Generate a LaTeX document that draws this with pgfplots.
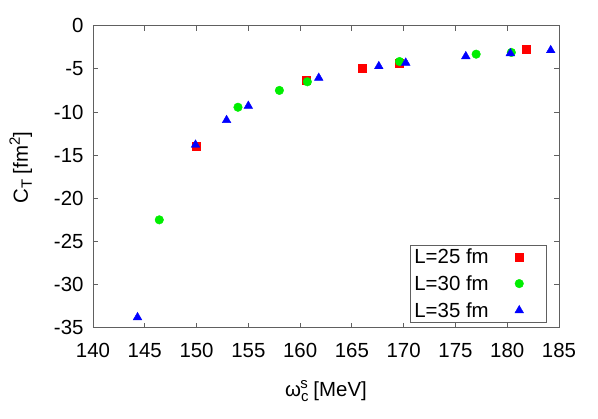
\documentclass[border=0pt]{standalone}
\usepackage{fontspec}
\setmainfont{Liberation Sans}
\usepackage{pgfplots}
\pgfplotsset{compat=1.18}
\definecolor{axgray}{HTML}{606060}
\definecolor{mred}{HTML}{FF0000}
\definecolor{mgreen}{HTML}{00EE00}
\definecolor{mblue}{HTML}{0000FF}
\newcommand{\sz}{\fontsize{20.5}{22}\selectfont}
\newcommand{\ssz}{\fontsize{15}{15}\selectfont}
\begin{document}
\begin{tikzpicture}
\path[use as bounding box] (-93bp,-91.3bp) rectangle (505bp,327.7bp);
\begin{axis}[
  scale only axis, width=466bp, height=302bp,
  xmin=140, xmax=185, ymin=-35, ymax=0,
  xtick={140,145,...,185}, ytick={-35,-30,...,0},
  tick align=inside, major tick length=5bp,
  axis line style={axgray, line width=0.8pt}, tick style={axgray, line width=0.8pt},
  /pgf/number format/assume math mode=true,
  tick label style={font=\sz},
  label style={font=\sz},
  xticklabel style={yshift=-12bp},
  yticklabel style={xshift=-6bp},
  xlabel={ω\raisebox{-5bp}{\ssz c}\hspace{-8.3bp}\raisebox{8bp}{\ssz s}\ [MeV]},
  ylabel={C\raisebox{-4bp}{\ssz T} [fm\raisebox{8bp}{\ssz 2}]},
  xlabel style={yshift=-16bp},
  ylabel style={yshift=15bp, xshift=9bp},
  legend plot pos=right,
  legend cell align=left,
  legend image code/.code={%
    \draw[#1] plot coordinates {(8.5bp,0bp)};
    \path[draw=none,fill=none] (0bp,0bp) -- (33bp,0bp);},
  legend style={at={(0.972,0.0166)}, anchor=south east, draw=axgray,
    font=\sz, inner xsep=2bp, inner ysep=2bp,
    column sep=20bp, row sep=6.5bp},
]
\addplot[only marks, mark=square*, mark size=4bp, color=mred] coordinates {
(150.0,-14.0) (160.6,-6.3) (166.0,-4.9) (169.6,-4.3) (181.8,-2.7)};
\addlegendentry{L=25 fm}
\addplot[only marks, mark=*, mark size=4.3bp, color=mgreen] coordinates {
(146.4,-22.5) (154.0,-9.45) (158.0,-7.5) (160.7,-6.5) (169.6,-4.15) (177.0,-3.3) (180.4,-3.1)};
\addlegendentry{L=30 fm}
\addplot[only marks, mark=triangle*, mark size=5bp, color=mblue] coordinates {
(144.3,-33.8) (149.9,-13.8) (152.9,-10.95) (155.0,-9.3) (161.8,-6.05) (167.6,-4.7) (170.2,-4.3) (176.0,-3.55) (180.3,-3.2) (184.2,-2.85)};
\addlegendentry{L=35 fm}
\end{axis}
\end{tikzpicture}
\end{document}
